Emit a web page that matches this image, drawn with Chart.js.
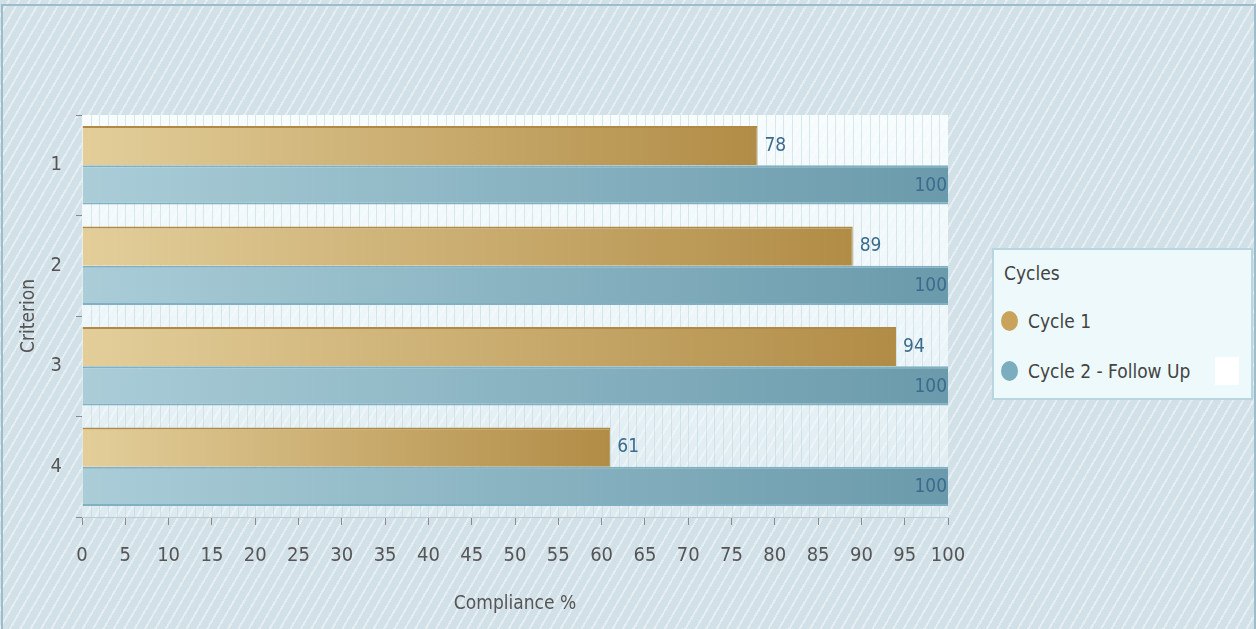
<!DOCTYPE html>
<html>
<head>
<meta charset="utf-8">
<script src="https://cdn.jsdelivr.net/npm/chart.js@4.4.1/dist/chart.umd.min.js"></script>
<style>
  html, body { margin: 0; padding: 0; }
  body {
    width: 1256px; height: 629px; overflow: hidden; position: relative;
    background-color: #d2e1e8;
    background-image: repeating-linear-gradient(120deg, rgba(255,255,255,0) 0 7px, rgba(255,255,255,0.42) 7px 9px);
    font-family: "DejaVu Sans Condensed", "DejaVu Sans", sans-serif;
  }
  #frame {
    position: absolute; left: 1px; top: 4px; width: 1251px; height: 630px;
    border: 2px solid #9dbdcb;
  }
  #chart { position: absolute; left: 0; top: 0; }
  #legend {
    position: absolute; left: 992px; top: 248px; width: 257px; height: 148px;
    background: #eef9fb; border: 2px solid #b7d6e0;
    color: #444; font-size: 19px;
  }
  #legend .title { position: absolute; left: 10px; top: 12px; }
  #legend .item { position: absolute; left: 7px; height: 24px; line-height: 24px; white-space: nowrap; }
  #legend .dot {
    display: inline-block; width: 17px; height: 20px; border-radius: 50%;
    vertical-align: middle; margin-right: 10px; margin-top: -3px;
  }
  #legend .blank { position: absolute; left: 221px; top: 107px; width: 24px; height: 28px; background: #fff; }
</style>
</head>
<body>
<div id="frame"></div>
<canvas id="chart" width="1256" height="629"></canvas>
<div id="legend"></div>
<script>
const criteria = ['1', '2', '3', '4'];
const cycle1 = [78, 89, 94, 61];
const cycle2 = [100, 100, 100, 100];
const seriesNames = ['Cycle 1', 'Cycle 2 - Follow Up'];
const legendTitle = 'Cycles';
const xTitle = 'Compliance %';
const yTitle = 'Criterion';

const goldStops = ['#e3ce9a', '#b18c46'];
const blueStops = ['#aacdd8', '#6a9aab'];
const dotColors = ['#c9a25c', '#7badbe'];
const fontFamily = '"DejaVu Sans Condensed", "DejaVu Sans", sans-serif';

function barGradient(stops, fallback) {
  return function(ctx) {
    const chart = ctx.chart;
    if (!chart.chartArea || ctx.raw == null) return fallback;
    const xs = chart.scales.x;
    const x0 = xs.getPixelForValue(0);
    const x1 = xs.getPixelForValue(ctx.raw);
    const g = chart.ctx.createLinearGradient(x0, 0, x1, 0);
    g.addColorStop(0, stops[0]);
    g.addColorStop(1, stops[1]);
    return g;
  };
}

// plot background + fine vertical lines every unit
const plotBackground = {
  id: 'plotBackground',
  beforeDatasetsDraw(chart) {
    const { ctx, chartArea: a, scales } = chart;
    ctx.save();
    const g = ctx.createLinearGradient(0, a.top, 0, a.bottom);
    g.addColorStop(0, 'rgba(250,254,255,0.92)');
    g.addColorStop(0.55, 'rgba(245,252,254,0.75)');
    g.addColorStop(1, 'rgba(240,250,252,0.35)');
    ctx.fillStyle = g;
    ctx.fillRect(a.left, a.top, a.right - a.left, a.bottom - a.top);
    ctx.strokeStyle = 'rgba(190,215,224,0.55)';
    ctx.lineWidth = 1;
    for (let v = 1; v < 100; v++) {
      const x = Math.round(scales.x.getPixelForValue(v)) + 0.5;
      ctx.beginPath();
      ctx.moveTo(x, a.top);
      ctx.lineTo(x, a.bottom);
      ctx.stroke();
    }
    ctx.restore();
  }
};

// value labels next to / inside bar ends
const valueLabels = {
  id: 'valueLabels',
  afterDatasetsDraw(chart) {
    const { ctx, chartArea } = chart;
    ctx.save();
    ctx.font = '19px ' + fontFamily;
    ctx.fillStyle = '#3b6c8e';
    ctx.textBaseline = 'middle';
    chart.data.datasets.forEach((ds, i) => {
      chart.getDatasetMeta(i).data.forEach((bar, j) => {
        const txt = String(ds.data[j]);
        const w = ctx.measureText(txt).width;
        if (bar.x + 7 + w > chartArea.right) {
          ctx.textAlign = 'right';
          ctx.fillText(txt, bar.x - 1, bar.y + 1);
        } else {
          ctx.textAlign = 'left';
          ctx.fillText(txt, bar.x + 7, bar.y);
        }
      });
    });
    ctx.restore();
  }
};

new Chart(document.getElementById('chart'), {
  type: 'bar',
  data: {
    labels: criteria,
    datasets: [{
      label: seriesNames[0],
      data: cycle1,
      backgroundColor: barGradient(goldStops, goldStops[0]),
      borderColor: '#b08a45',
      borderWidth: { top: 2, bottom: 0, right: 1 },
      borderSkipped: 'start'
    }, {
      label: seriesNames[1],
      data: cycle2,
      backgroundColor: barGradient(blueStops, blueStops[0]),
      borderColor: '#7fb1c2',
      borderWidth: { top: 2, bottom: 2, right: 0 },
      borderSkipped: 'start'
    }]
  },
  options: {
    indexAxis: 'y',
    responsive: false,
    animation: false,
    categoryPercentage: 0.78,
    barPercentage: 1.0,
    layout: { padding: { left: 10, top: 115, right: 308, bottom: 0 } },
    plugins: {
      legend: { display: false },
      tooltip: { enabled: false }
    },
    scales: {
      x: {
        min: 0,
        max: 100,
        afterFit(scale) { scale.height = 112; },
        ticks: {
          stepSize: 5,
          color: '#555',
          padding: 19,
          font: { family: fontFamily, size: 20 }
        },
        grid: { drawOnChartArea: false, tickLength: 8, color: '#8a8a8a' },
        border: { display: true, color: '#bccbd2' },
        title: {
          display: true,
          text: xTitle,
          color: '#555',
          padding: { top: 0, bottom: 14 },
          font: { family: fontFamily, size: 19 }
        }
      },
      y: {
        afterFit(scale) { scale.width = 72; },
        ticks: {
          color: '#555',
          padding: 14,
          font: { family: fontFamily, size: 20 }
        },
        grid: { offset: true, drawOnChartArea: false, tickLength: 6, color: '#8a8a8a' },
        border: { display: false },
        title: {
          display: true,
          text: yTitle,
          color: '#555',
          padding: { top: 8, bottom: 0 },
          font: { family: fontFamily, size: 19 }
        }
      }
    }
  },
  plugins: [plotBackground, valueLabels]
});

// legend box
const legend = document.getElementById('legend');
let html = '<div class="title">' + legendTitle + '</div>';
seriesNames.forEach((name, i) => {
  html += '<div class="item" style="top:' + (59 + i * 50) + 'px"><span class="dot" style="background:' +
    dotColors[i] + '"></span>' + name + '</div>';
});
html += '<div class="blank"></div>';
legend.innerHTML = html;
</script>
</body>
</html>
